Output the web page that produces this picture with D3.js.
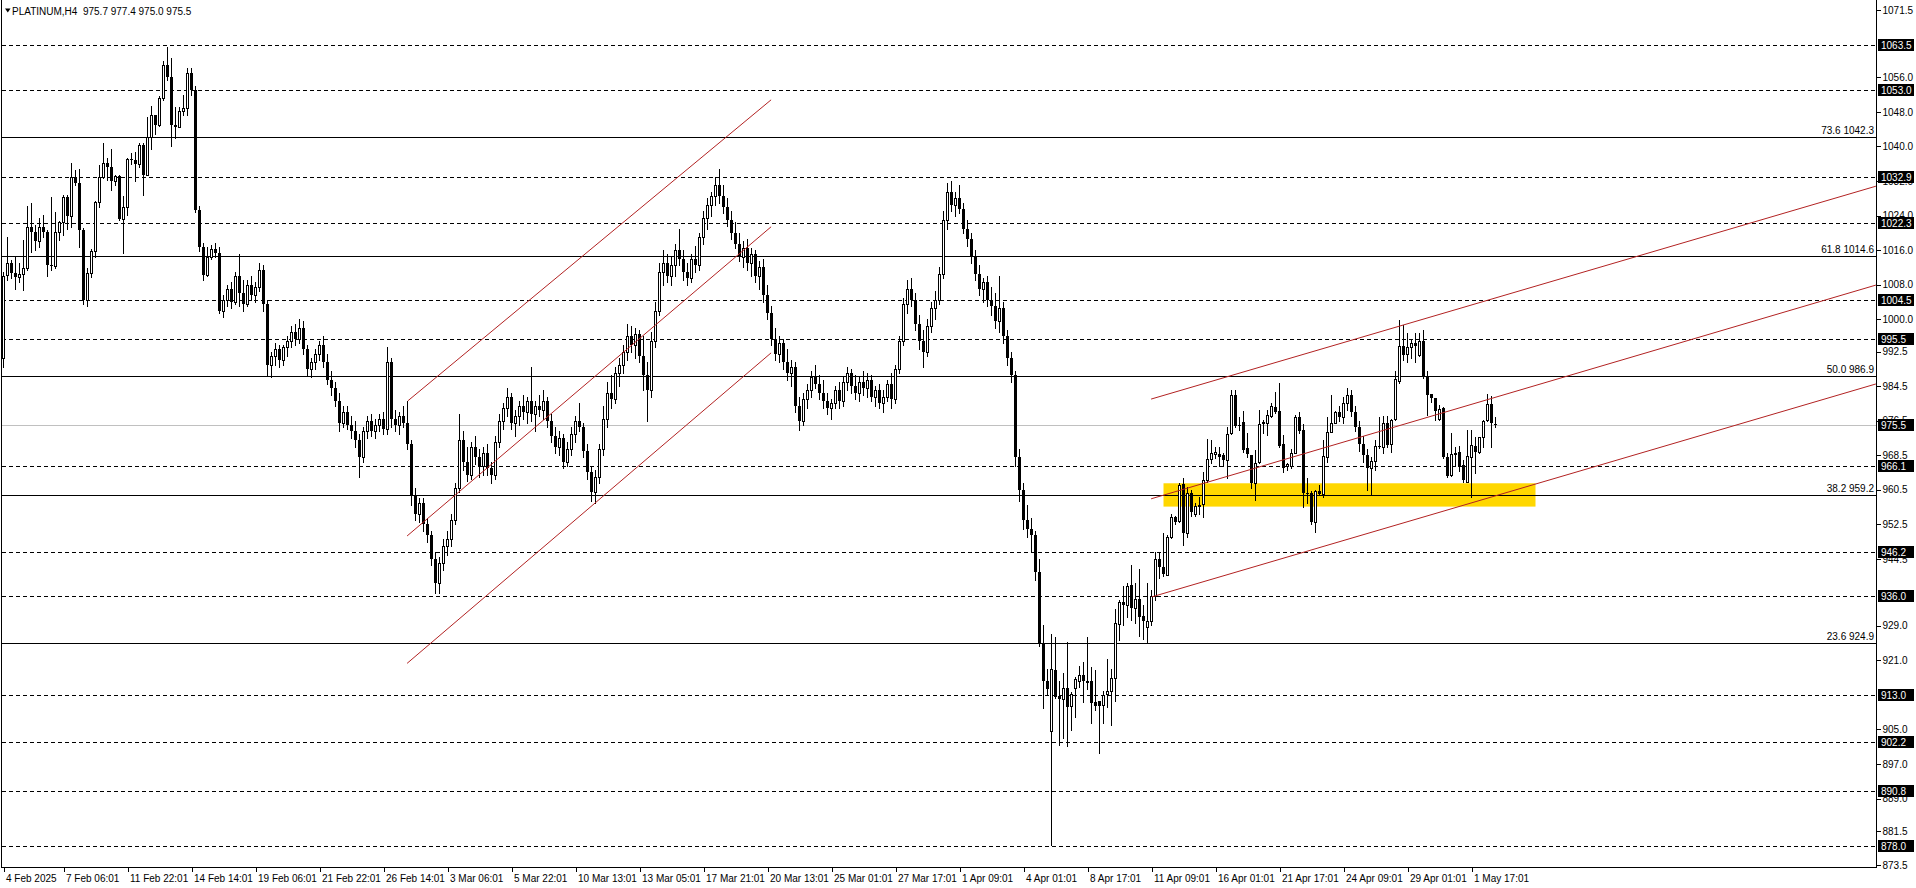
<!DOCTYPE html>
<html><head><meta charset="utf-8">
<script src="https://cdn.jsdelivr.net/npm/d3@7"></script>
<style>
body{margin:0;background:#fff;overflow:hidden}
svg{display:block}
text{font-family:"Liberation Sans",Arial,sans-serif;}
</style>
</head><body>
<svg id="c" width="1916" height="888"></svg>
<script>
// ---------------- DATA ----------------
const symbolTitle = "PLATINUM,H4  975.7 977.4 975.0 975.5";

// [open, high, low, close] per H4 bar
const candles = [
[991,1011,989,1010],[1010.2,1019.1,1009.1,1013],[1013,1013.7,1009.5,1010.6],[1010.6,1014.5,1006.9,1009.7],[1009.7,1013,1008.7,1010.4],
[1010.4,1018.4,1006.8,1011.8],[1011.8,1026.1,1011.4,1021.4],[1021.4,1026.8,1015.6,1020.3],[1020.3,1021.8,1016,1018.2],[1018.2,1023.4,1016.8,1021.4],
[1021.4,1024.1,1019.1,1020.3],[1020.3,1020.7,1010,1012.6],[1012.6,1028.4,1011.4,1012.3],[1012.3,1024.9,1011.9,1020.3],[1020.3,1022.8,1018.4,1022.4],
[1022.4,1028.8,1019.5,1028.2],[1028.2,1028.8,1020.8,1023.8],[1023.8,1036.1,1021.4,1032.9],[1032.9,1034.6,1031,1031.5],[1031.5,1034.7,1016.8,1020.7],
[1020.7,1021.1,1003.5,1004.5],[1004.5,1011.8,1003,1010.8],[1010.8,1016.2,1009.7,1015.7],[1015.7,1027.3,1014.5,1027.1],[1027.1,1035.7,1026,1033],
[1033,1040.9,1032.6,1036.1],[1036.1,1037.3,1032.3,1035.2],[1035.2,1039.4,1030,1031.9],[1031.9,1033.4,1031.1,1033.2],[1033.2,1033.4,1023,1023.1],
[1023.1,1028.5,1015.3,1025.9],[1025.9,1037.3,1024.1,1037],[1037,1038.4,1036,1036.8],[1036.8,1038.8,1031.9,1036],[1036,1040.9,1035.3,1040.4],
[1040.4,1040.8,1028.8,1033.4],[1033.4,1046.8,1033.3,1042.3],[1042.3,1049.4,1039.4,1047.3],[1047.3,1047.3,1043,1045],[1045,1051.6,1044.8,1051.2],
[1051.2,1059.7,1050.8,1058.9],[1058.9,1063.1,1055.5,1056],[1056,1060.4,1040,1045],[1045,1049.2,1041.9,1044.6],[1044.6,1049.2,1044.6,1048.1],
[1048.1,1051.9,1047.3,1048.8],[1048.8,1058.1,1047.3,1057],[1057,1058.1,1052,1053.1],[1053.1,1053.9,1024.9,1025.3],[1025.3,1026.1,1015.7,1016.8],
[1016.8,1017.6,1009,1010.2],[1010.2,1016.8,1010,1014.5],[1014.5,1017.2,1014,1016.2],[1016.2,1017.6,1014.5,1015.3],[1015.3,1016.8,1001.5,1002],
[1002,1005.5,1000.5,1004.5],[1004.5,1008,1003,1007],[1007,1008.5,1002.5,1004],[1004,1011,1003.5,1010],[1010,1015,1003,1006],
[1006,1009,1002,1003.5],[1003.5,1009,1003,1008],[1008,1010,1004.5,1005.5],[1005.5,1008.5,1004,1007.5],[1007.5,1013,1006.5,1011.5],
[1011.5,1012.5,1002,1003.5],[1003.5,1004.5,987,989.5],[989.5,992.5,986.5,991.5],[991.5,994.5,989.5,993],[993,994,989,990.5],
[990.5,994,989.5,993.5],[993.5,996,991.5,995],[995,998.5,993.5,997],[997,999,994,995.5],[995.5,1000,994.5,998],
[998,999.5,992,993],[993,994,987,988.5],[988.5,991,986.5,990],[990,993,988.5,992],[992,995,990.5,994],
[994,996,989,990],[990,992,985,986],[986,988,982.5,984],[984,985.5,980,981],[981,983,974,976],
[976,980,975,978.5],[978.5,980,974.5,975.5],[975.5,977.5,972.5,974],[974,976.5,970.5,972],[972,973.5,963.5,968],
[968,975,967,974],[974,977.5,972.5,976.5],[976.5,978,973,974],[974,977,972.5,975.5],[975.5,978,974,977],
[977,978.5,973.5,974.5],[974.5,993.5,973.5,990],[990,991,975,977],[977,979,974,975.5],[975.5,978.5,973.5,977.5],
[977.5,980,975,976],[976,981,970,971],[971,972,957,959],[959,961,953.5,955],[955,958.5,953,957.5],
[957.5,958.5,951,952.5],[952.5,954,948.5,950],[950,951,943,944.5],[944.5,946,936.5,939],[939,945,936.5,943.5],
[943.5,949,942,947.5],[947.5,951,945.5,949],[949,955,947.5,953.5],[953.5,962,952.5,961],[961,978,960,972],
[972,974,965,967],[967,970.5,962.5,964],[964,971.5,963,970.5],[970.5,973,966.5,968],[968,970,963.5,966],
[966,970.5,964,969],[969,971,964,965.5],[965.5,967,962,964],[964,973,963,971.5],[971.5,978,970.5,976.5],
[976.5,980.5,974.5,979.5],[979.5,984,977.5,982],[982,983,974.5,976],[976,979,973,977.5],[977.5,981,975.5,980],
[980,982.5,977,978.5],[978.5,982,976,981],[981,989,976.5,978],[978,981,974,980],[980,982.5,977.5,979],
[979,983.5,977,981],[981,982,975,976.5],[976.5,978,971.5,973],[973,975,969,970.5],[970.5,974,968.5,972.5],
[972.5,973.5,965.5,967],[967,971.5,966,970],[970,975,968.5,973.5],[973.5,977.5,971.5,976.5],[976.5,980.5,974,975],
[975,976,968,969.5],[969.5,971,963,964.5],[964.5,966,958,960],[960,965,957.5,963.5],[963.5,971,962,970],
[970,980,968.5,977],[977,985.5,975,983],[983,987,979.5,981.5],[981.5,989,980.5,987.5],[987.5,991,984.5,989.5],
[989.5,994,987.5,992.5],[992.5,999,990.5,996],[996,998.5,992.5,994],[994,998,991,996.5],[996.5,997.5,990,991.5],
[991.5,996,983.5,987],[987,990,976.5,983.5],[983.5,997,982,995],[995,1004,993.5,1002],[1002,1013,1001,1011],
[1011,1016,1008,1013],[1013,1015,1008.5,1010],[1010,1014.5,1008,1012.5],[1012.5,1017.5,1010,1016],[1016,1021,1012.5,1014],
[1014,1016,1009,1011],[1011,1013,1008,1009.5],[1009.5,1015,1008.5,1014],[1014,1017,1011,1012.5],[1012.5,1020,1011.5,1019],
[1019,1025,1017.5,1023.5],[1023.5,1028,1021,1026.5],[1026.5,1029.5,1024,1028.5],[1028.5,1033,1026.5,1031],[1031,1034.8,1027,1028.5],
[1028.5,1031,1024.5,1026],[1026,1028,1021.5,1023],[1023,1025,1018.5,1020],[1020,1022.5,1016.5,1017.5],[1017.5,1020,1013.5,1014.5],
[1014.5,1018,1012,1016.5],[1016.5,1018.5,1011.5,1013],[1013,1016.5,1010,1015],[1015,1016,1008.5,1010],[1010,1013.5,1007,1012],
[1012,1014,1004,1005.5],[1005.5,1008,1000,1001.5],[1001.5,1003,994,995.5],[995.5,998,990.5,992],[992,996,990,994.5],
[994.5,995.5,988.5,990],[990,993,986,987.5],[987.5,990.5,984.5,989],[989,990,978.5,980],[980,982,974.3,976.5],
[976.5,983,975.5,981.5],[981.5,985,979.5,983.5],[983.5,988,982,986.5],[986.5,989.5,984,985],[985,987,981.5,983],
[983,986,979.5,981],[981,983,978,979.5],[979.5,981.5,977,980.5],[980.5,984.5,979.5,983.5],[983.5,985.5,979.5,981],
[981,986.5,980,985.5],[985.5,989,983.5,987.5],[987.5,988.5,983,984.5],[984.5,987,981.5,983],[983,986.5,981,985.5],
[985.5,988,982.5,984],[984,987.5,982,986],[986,987,981,982],[982,984.5,980,983.5],[983.5,985,979.5,980.5],
[980.5,983.5,978.5,982],[982,986,981,985],[985,987.5,979.5,981.5],[981.5,989.5,980.5,988.5],[988.5,996,987.5,995],
[995,1005,994,1003.5],[1003.5,1009,1001.5,1007],[1007,1009.5,1003,1004.5],[1004.5,1006,997.5,999],[999,1001,993,995],
[995,997.5,989,992.5],[992.5,1000,991.5,998.5],[998.5,1004,997,1002.5],[1002.5,1006.5,1000,1004.5],[1004.5,1012,1003.5,1010.5],
[1010.5,1025,1009.5,1023],[1023,1031.5,1021,1029.5],[1029.5,1032,1025,1026.5],[1026.5,1029.5,1024,1028],[1028,1031,1024.5,1025.5],
[1025.5,1027,1020,1021],[1021,1023,1017,1018.5],[1018.5,1020,1013,1014.5],[1014.5,1016,1009,1010.5],[1010.5,1012.5,1005.5,1007],
[1007,1009.5,1004,1008.5],[1008.5,1010,1003,1004.5],[1004.5,1007.5,1001,1003],[1003,1006,998,999.5],[999.5,1010,997,1002.5],
[1002.5,1004,994.5,996],[996,997.5,989.5,991],[991,992.5,985.5,987],[987,988,966,968],[968,970,958,960.5],
[960.5,962,951.5,953.5],[953.5,957,949.5,951.5],[951.5,954,946.2,950],[950,951,939.6,941.5],[941.5,944.4,924.3,924.9],
[924.9,929.2,910,916.1],[916.1,918.9,913,914.4],[904.7,927,878.2,918.9],[918.8,926.3,912.3,912.6],[912.7,916.2,901.4,912.1],
[912.1,918,902.9,914.7],[914.6,925.2,901.1,910.3],[910.5,913.7,904.9,913.3],[914.7,917.2,907.9,916.6],[916.3,919.7,914.9,917.5],
[917.5,920.5,911.3,916.1],[916.1,926.3,914.4,915.8],[916.1,919.4,906.6,911.2],[911.3,918.8,909.5,910.5],[911.5,911.6,899.6,910.5],
[910.7,913.9,906.6,912.9],[913.1,921.3,910.3,914],[914,918.9,906,916.8],[917,932.9,911.6,929.6],[929.3,935,925.7,934.4],
[934.5,938.1,929.2,933.7],[933.7,938.8,931.1,938.1],[938.4,943.1,930.3,933.2],[933.2,938.8,929.6,935.2],[935.1,942.1,926.7,931.1],
[931.2,933.7,925.9,930],[928.8,938.8,924.9,930.1],[930.1,937.3,929.2,936],[936,946.2,935,944.4],[944.4,946.2,940,942.5],
[942.7,950.4,940.5,941.1],[940.8,950,940.7,949.5],[949.5,955,949.3,954.1],[954.1,954.5,952.5,953.1],[953.3,962,953,961.5],
[961.8,963.2,947.7,950.6],[950.4,961.2,949.6,959.7],[959.7,960.5,954.5,955.4],[955,957.5,954.5,956.8],[956.8,958.9,955,956.9],
[957.2,964.7,954.3,962.7],[962.7,972.2,962.4,967.6],[967.7,972,966.6,968.9],[968.8,970.5,967.8,969.2],[968.7,970.3,965.9,968.2],
[968.6,968.9,966.2,967.4],[967.4,975.1,963.2,973.3],[973.6,983.6,973.4,982.4],[982.4,983.6,975.1,975.3],[975.6,977.3,974.4,975.4],
[976.1,978.7,969.3,969.7],[970.1,973.6,968.2,968.7],[968.5,968.6,960.8,962],[962,969.7,958.1,966.8],[966.9,979,966.6,975.7],
[975.9,976.7,973.6,976.1],[975.9,979,973.2,977.7],[977.6,980.7,977.3,979.8],[979.6,983.2,978.3,978.4],[978.7,985.2,970.5,970.7],
[971,973.2,964.7,965.6],[965.9,966.8,965.1,966.4],[966,969.9,965.5,968.9],[969.1,977.8,968.9,977.3],[977.3,978.6,973.6,974],
[974.3,975.7,956.6,959.7],[959.8,963.2,957.4,959.7],[959.7,960.1,952.5,953],[953,960.5,950.8,960.1],[960.3,961.6,959.3,959.5],
[959.5,972,958.9,968.3],[968,977.3,967,973.8],[973.8,982.5,973.8,975.9],[976,978.8,975.9,978.4],[978.4,979.8,976.5,977.4],
[977.4,982,976,980.5],[980.5,984,979,982.5],[982.5,983.5,977.5,978.5],[978.5,980,974,975],[975,976.5,969.5,971],
[971,973,967,968.5],[968.5,970,960.5,965.5],[965.5,968.2,959.3,967.2],[967.2,972,965.1,970.6],[970.6,977.4,970.1,970.3],
[970.5,977.6,969.1,975.9],[975.9,977.6,970.5,970.9],[971.2,977,969.3,976.7],[976.8,987.9,976.7,986.2],[985.8,999.8,985.3,993.8],
[993.8,998.7,990.6,991.7],[992,996.9,990.2,993.5],[993.5,995.2,990.9,994.6],[994.4,996.9,990.2,993.8],[991.7,996.7,991.5,995],
[995,997.5,986.3,986.7],[986.9,988.1,977.8,982.5],[982.7,982.7,980.9,981.7],[981.8,981.8,976.7,978.8],[976.8,980.1,976.7,979.1],
[979.4,979.6,967.8,968],[968.2,968.9,963.5,963.8],[963.9,973.6,963.7,968.7],[969.1,970.5,965.9,968.6],[969.3,970.6,964.9,965.9],
[966.2,967.4,962.2,962.8],[962.4,974.4,962.2,968.3],[968.2,974.4,958.9,970.9],[970.6,972.8,964.3,969.3],[969.3,972.8,969.1,972.8],
[972.8,976.7,970.5,976.4],[976.7,982.6,976.5,980.4],[980.4,982.3,970.3,975.9],[975.7,977.4,975.0,975.5]
];

const timeLabels = ["4 Feb 2025","7 Feb 06:01","11 Feb 22:01","14 Feb 14:01","19 Feb 06:01","21 Feb 22:01","26 Feb 14:01","3 Mar 06:01","5 Mar 22:01","10 Mar 13:01","13 Mar 05:01","17 Mar 21:01","20 Mar 13:01","25 Mar 01:01","27 Mar 17:01","1 Apr 09:01","4 Apr 01:01","8 Apr 17:01","11 Apr 09:01","16 Apr 01:01","21 Apr 17:01","24 Apr 09:01","29 Apr 01:01","1 May 17:01"];
const timeLabelBars = [0,15,31,47,63,79,95,111,127,143,159,175,191,207,223,239,255,271,287,303,319,335,351,367];

const priceTicks = [1071.5,1056.0,1048.0,1040.0,1032.0,1024.0,1016.0,1008.0,1000.0,992.5,984.5,976.5,968.5,960.5,952.5,944.5,929.0,921.0,905.0,897.0,889.0,881.5,873.5];

const dashedLevels = [1063.5,1053.0,1032.9,1022.3,1004.5,995.5,966.1,946.2,936.0,913.0,902.2,890.8,878.0];
const fibLevels = [1042.3,1014.6,986.9,959.2,924.9];
const fibRatios = ["73.6","61.8","50.0","38.2","23.6"];
const currentPrice = 975.5;

// trend lines: [startBar, startPrice, endBar, endPrice]
const trendLines = [
  [101.1,981.1,191.9,1050.8],
  [100.9,949.8,191.9,1021.4],
  [100.9,920.3,191.9,992.2],
  [286.9,981.5,468.1,1030.8],
  [286.9,958.4,468.1,1007.9],
  [287.1,935.7,468.1,985.0]
];
// support zone: [fromBar, toBar, high, low]
const zone = [290,383,962.0,956.6];

// ---------------- DRAW ----------------
const svg = d3.select("#c");
const plotL = 2, plotR = 1876, plotB = 867;
const x = d3.scaleLinear().domain([0,468]).range([3.5,1875.5]);
const y = d3.scaleLinear().domain([878.0,1063.5]).range([846,45]);
const py = v => Math.round(y(v)) + 0.5;

svg.append("rect").attr("width",1916).attr("height",888).attr("fill","#fff");
svg.append("defs").append("clipPath").attr("id","clip")
  .append("rect").attr("x",plotL).attr("y",0).attr("width",plotR-plotL).attr("height",plotB);

const plot = svg.append("g").attr("clip-path","url(#clip)");

// zone
plot.append("rect")
  .attr("x",x(zone[0])).attr("width",x(zone[1])-x(zone[0]))
  .attr("y",y(zone[2])).attr("height",y(zone[3])-y(zone[2]))
  .attr("fill","#ffd700");

// dashed levels
plot.selectAll("line.dl").data(dashedLevels).join("line")
  .attr("x1",plotL).attr("x2",plotR).attr("y1",py).attr("y2",py)
  .attr("stroke","#000").attr("stroke-width",1).attr("stroke-dasharray","4,3")
  .attr("shape-rendering","crispEdges");

// fib levels
plot.selectAll("line.fl").data(fibLevels).join("line")
  .attr("x1",plotL).attr("x2",plotR).attr("y1",py).attr("y2",py)
  .attr("stroke","#000").attr("stroke-width",1).attr("shape-rendering","crispEdges");

// current price line
plot.append("line").attr("x1",plotL).attr("x2",plotR).attr("y1",py(currentPrice)).attr("y2",py(currentPrice))
  .attr("stroke","#c0c0c0").attr("shape-rendering","crispEdges");

// fib labels
svg.selectAll("text.fib").data(fibLevels).join("text")
  .attr("x",plotR-2).attr("y",d=>Math.round(y(d))-3)
  .attr("text-anchor","end").attr("font-size",10).attr("fill","#000")
  .text((d,i)=>fibRatios[i]+" "+d.toFixed(1));

// candles
const cg = plot.append("g").attr("shape-rendering","crispEdges");
const cs = cg.selectAll("g").data(candles).join("g");
cs.append("line")
  .attr("x1",(d,i)=>x(i)).attr("x2",(d,i)=>x(i))
  .attr("y1",d=>Math.round(y(d[1]))).attr("y2",d=>Math.round(y(d[2]))+1)
  .attr("stroke","#000");
cs.append("rect")
  .attr("x",(d,i)=> d[3]>=d[0] ? x(i)-1 : x(i)-1.5)
  .attr("width",d=> d[3]>=d[0] ? 2 : 3)
  .attr("y",d=> d[3]>=d[0] ? Math.round(y(d[3]))+0.5 : Math.round(y(d[0])))
  .attr("height",d=>{
     const h = Math.abs(Math.round(y(d[0]))-Math.round(y(d[3])));
     return d[3]>=d[0] ? Math.max(h,0) : Math.max(h,1);
  })
  .attr("fill",d=> d[3]>=d[0] ? "#fff" : "#000")
  .attr("stroke",d=> d[3]>=d[0] ? "#000" : "none")
  .attr("stroke-width",1);

// trend lines
plot.selectAll("line.tl").data(trendLines).join("line")
  .attr("x1",d=>x(d[0])).attr("y1",d=>y(d[1]))
  .attr("x2",d=>x(d[2])).attr("y2",d=>y(d[3]))
  .attr("stroke","#b22222").attr("stroke-width",1);

// frame
svg.append("line").attr("x1",1.5).attr("x2",1.5).attr("y1",0).attr("y2",plotB).attr("stroke","#000");
svg.append("line").attr("x1",plotR+0.5).attr("x2",plotR+0.5).attr("y1",0).attr("y2",plotB+1).attr("stroke","#000");
svg.append("line").attr("x1",1).attr("x2",plotR+1).attr("y1",plotB+0.5).attr("y2",plotB+0.5).attr("stroke","#000");

// right price axis
const yAxis = d3.axisRight(y).tickValues(priceTicks).tickFormat(d3.format(".1f")).tickSize(4).tickPadding(2);
const ya = svg.append("g").attr("transform",`translate(${plotR+0.5},0)`).call(yAxis);
ya.select(".domain").remove();
ya.selectAll(".tick line").attr("stroke","#000").attr("shape-rendering","crispEdges");
ya.selectAll(".tick text").attr("font-size",10).attr("fill","#000").attr("font-family","Liberation Sans, Arial, sans-serif");

// boxed level labels
const boxed = dashedLevels.concat([currentPrice]);
const bx = svg.selectAll("g.box").data(boxed).join("g")
  .attr("transform",d=>`translate(1878,${Math.round(y(d))})`);
bx.append("rect").attr("x",0).attr("y",-6).attr("width",36).attr("height",12).attr("fill","#000");
bx.append("text").attr("x",3).attr("y",4).attr("font-size",10).attr("fill","#fff").text(d=>d.toFixed(1));

// bottom time axis
const xAxis = d3.axisBottom(x).tickValues(timeLabelBars).tickSize(4).tickPadding(3)
  .tickFormat(d=>timeLabels[timeLabelBars.indexOf(d)]);
const xa = svg.append("g").attr("transform",`translate(0,${plotB+0.5})`).call(xAxis);
xa.select(".domain").remove();
xa.selectAll(".tick line").attr("stroke","#000").attr("shape-rendering","crispEdges");
xa.selectAll(".tick text").attr("text-anchor","start").attr("dx",2).attr("font-size",10)
  .attr("fill","#000").attr("font-family","Liberation Sans, Arial, sans-serif");

// title
svg.append("path").attr("d","M5,8.5 L10.5,8.5 L7.75,12.5 Z").attr("fill","#000");
svg.append("text").attr("x",12).attr("y",15).attr("font-size",10).attr("fill","#000")
  .style("white-space","pre").text(symbolTitle);
</script>
</body></html>
